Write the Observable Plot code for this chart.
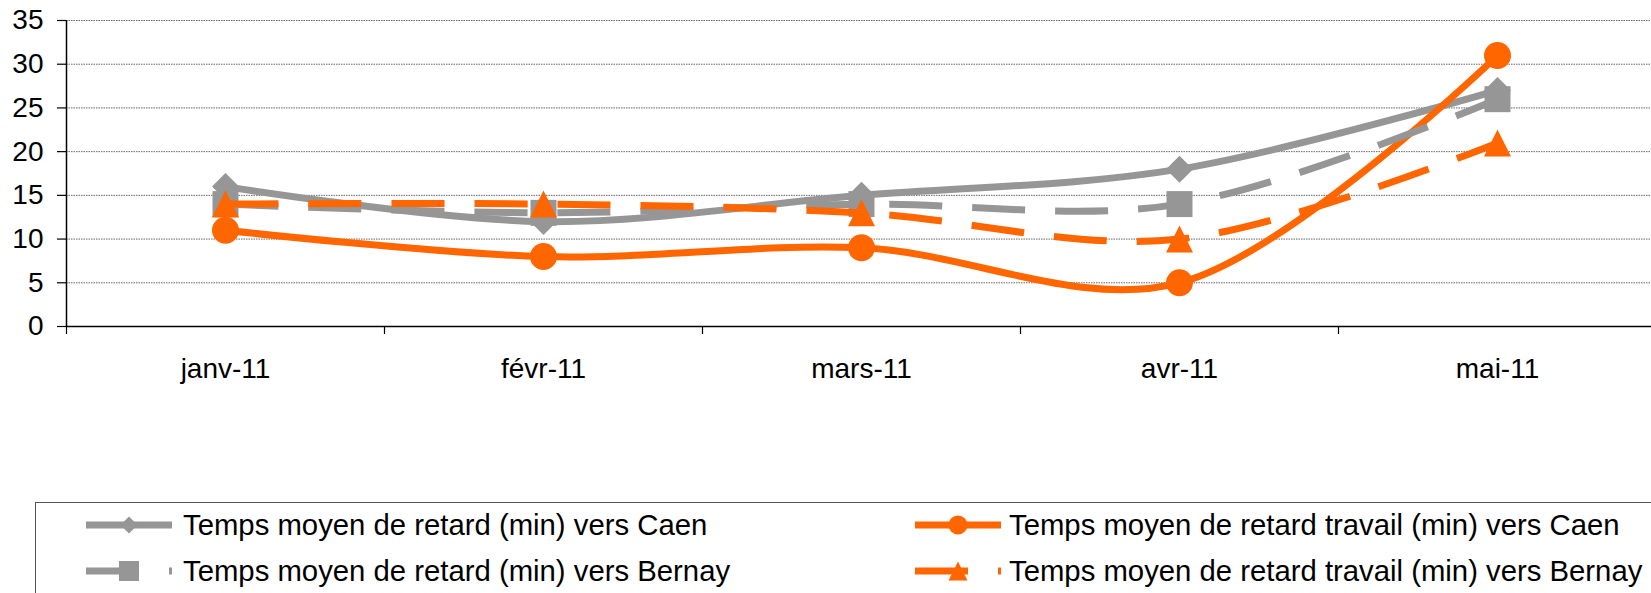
<!DOCTYPE html>
<html><head><meta charset="utf-8">
<script src="https://cdn.jsdelivr.net/npm/d3@7"></script>
<script src="https://cdn.jsdelivr.net/npm/@observablehq/plot@0.6"></script>
<style>
html,body{margin:0;padding:0;background:#fff;overflow:hidden;width:1651px;height:593px;}
#wrap{position:relative;width:1651px;height:593px;font-family:"Liberation Sans",Arial,sans-serif;color:#000;}
#legend{position:absolute;left:35px;top:502px;width:1700px;height:200px;border:1.5px solid #555;box-sizing:border-box;}
.item{position:absolute;height:40px;display:flex;align-items:center;font-size:29.3px;white-space:nowrap;}
.item svg{display:block;}
</style></head><body><div id="wrap"><div id="chart"></div><div id="legend"></div></div>
<script>
// ---- data ----
const months = ["janv-11", "févr-11", "mars-11", "avr-11", "mai-11"];
const retardCaen = [16, 12, 15, 18, 27];
const travailCaen = [11, 8, 9, 5, 31];
const retardBernay = [14, 13, 14, 14, 26];
const travailBernay = [14, 14, 13, 10, 21];
const yTicks = [0, 5, 10, 15, 20, 25, 30, 35];
const seriesNames = [
  "Temps moyen de retard (min) vers Caen",
  "Temps moyen de retard travail (min) vers Caen",
  "Temps moyen de retard (min) vers Bernay",
  "Temps moyen de retard travail (min) vers Bernay"
];

// ---- symbols (Excel-like markers) ----
const half = size => Math.sqrt(size / Math.PI);
const symDiamond = {draw(c, s) { const h = half(s); c.moveTo(0, -h); c.lineTo(h, 0); c.lineTo(0, h); c.lineTo(-h, 0); c.closePath(); }};
const symSquare = {draw(c, s) { const h = half(s); c.rect(-h, -h, 2 * h, 2 * h); }};
const symTriangle = {draw(c, s) { const h = half(s); c.moveTo(0, -h); c.lineTo(h, h); c.lineTo(-h, h); c.closePath(); }};
const symCircle = {draw(c, s) { const h = half(s); c.moveTo(h, 0); c.arc(0, 0, h, 0, 2 * Math.PI); }};

const GRAY = "#969696", ORANGE = "#FF6600", DASH = "53,30";
const series = [
  {name: seriesNames[0], values: retardCaen, color: GRAY, dash: null, symbol: symDiamond, r: 13.5, lr: 8.5},
  {name: seriesNames[1], values: travailCaen, color: ORANGE, dash: null, symbol: symCircle, r: 13.5, lr: 9.5},
  {name: seriesNames[2], values: retardBernay, color: GRAY, dash: DASH, symbol: symSquare, r: 13, lr: 10},
  {name: seriesNames[3], values: travailBernay, color: ORANGE, dash: DASH, symbol: symTriangle, r: 13.5, lr: 9.5}
];
const rows = series.flatMap(s => s.values.map((v, i) => ({name: s.name, x: i + 0.5, y: v})));

const marks = [
  Plot.gridY(yTicks, {stroke: "#666", strokeOpacity: 1, strokeWidth: 1, strokeDasharray: "1.5,1"}),
  Plot.ruleY([0], {stroke: "#000", strokeWidth: 1.5}),
  Plot.ruleX([0], {stroke: "#000", strokeWidth: 1.5}),
  Plot.axisY({ticks: yTicks, tickSize: 9, tickPadding: 14, fontSize: 28, label: null, strokeWidth: 1.2}),
  Plot.axisX({ticks: d3.range(months.length + 1), tickSize: 8, tickFormat: () => "", label: null, strokeWidth: 1.2}),
  Plot.axisX({ticks: months.map((m, i) => i + 0.5), tickSize: 0, tickPadding: 32, fontSize: 28, label: null,
              tickFormat: d => months[Math.floor(d)]})
];
for (const s of series) {
  const data = rows.filter(d => d.name === s.name);
  marks.push(Plot.line(data, {x: "x", y: "y", stroke: s.color, strokeWidth: 7, curve: "catmull-rom",
                              strokeDasharray: s.dash || undefined, strokeLinecap: "butt", strokeLinejoin: "round"}));
  marks.push(Plot.dot(data, {x: "x", y: "y", symbol: s.symbol, r: s.r, fill: s.color, stroke: "none"}));
}

const chart = Plot.plot({
  width: 1651, height: 495,
  marginTop: 20, marginBottom: 169, marginLeft: 66, marginRight: 0,
  style: {fontFamily: "'Liberation Sans', Arial, sans-serif", color: "#000", background: "#fff", overflow: "visible"},
  x: {type: "linear", domain: [0, months.length], range: [66, 1656]},
  y: {domain: [0, 35]},
  marks
});
document.getElementById("chart").appendChild(chart);

// ---- legend ----
const wrap = d3.select("#wrap");
const pos = [
  {left: 86, top: 505, gap: 11},
  {left: 915, top: 505, gap: 8},
  {left: 86, top: 551, gap: 11},
  {left: 915, top: 551, gap: 8}
];
series.forEach((s, i) => {
  const p = pos[i];
  const item = wrap.append("div").attr("class", "item").style("left", p.left + "px").style("top", p.top + "px");
  const svg = item.append("svg").attr("width", 86).attr("height", 40);
  svg.append("line").attr("x1", 0).attr("x2", 86).attr("y1", 20).attr("y2", 20)
    .attr("stroke", s.color).attr("stroke-width", 7).attr("stroke-dasharray", s.dash);
  svg.append("path").attr("transform", "translate(43,20)")
    .attr("d", d3.symbol(s.symbol, Math.PI * s.lr * s.lr)()).attr("fill", s.color);
  item.append("span").style("margin-left", p.gap + "px").text(s.name);
});
</script></body></html>
